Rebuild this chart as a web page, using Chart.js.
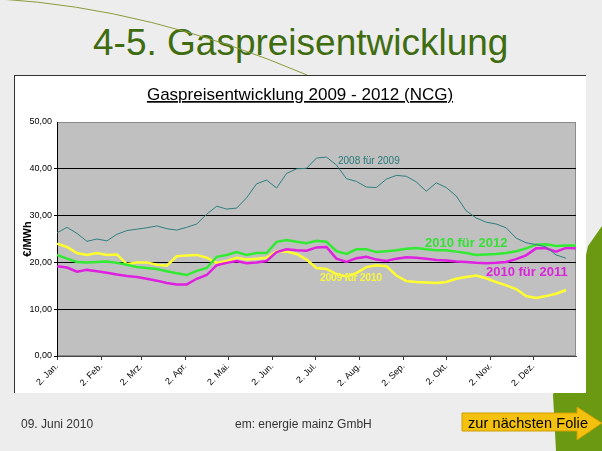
<!DOCTYPE html>
<html>
<head>
<meta charset="utf-8">
<script src="https://cdn.jsdelivr.net/npm/chart.js@4"></script>
<style>
  html, body { margin:0; padding:0; }
  body { width:602px; height:451px; background:#ededed; position:relative; overflow:hidden; font-family:"Liberation Sans", Arial, sans-serif; }
  #bg, #fg { position:absolute; left:0; top:0; }
  #fg { pointer-events:none; }
  #box { position:absolute; left:14px; top:75px; width:572px; height:318px; background:#fff; border-top:1px solid #333; border-left:1px solid #333; box-sizing:border-box; }
  #c { position:absolute; left:14px; top:75px; }
</style>
</head>
<body>
<svg id="bg" width="602" height="451">
  <polygon points="602,226 588,246 572,320 553,395 556,451 602,451" fill="#6b9a12"/>
  <text x="93" y="55" font-family="Liberation Sans, Arial" font-size="37" fill="#3f6c10">4-5. Gaspreisentwicklung</text>
  <path d="M0,-1 Q150,8 307,75" fill="none" stroke="#8c9c3a" stroke-width="1"/>
</svg>
<div id="box"></div>
<canvas id="c" width="572" height="318"></canvas>
<svg id="fg" width="602" height="451" font-family="Liberation Sans, Arial">
  <text x="300" y="100" text-anchor="middle" font-size="17" fill="#000" text-decoration="underline">Gaspreisentwicklung 2009 - 2012 (NCG)</text>
  <text x="338" y="164" font-size="10" fill="#2a7878">2008 für 2009</text>
  <text x="425" y="247" font-size="13" font-weight="bold" fill="#36e036">2010 für 2012</text>
  <text x="486" y="276" font-size="13" font-weight="bold" fill="#dd22dd">2010 für 2011</text>
  <text x="320" y="281" font-size="10.5" font-weight="bold" fill="#f6f640" textLength="62">2009 für 2010</text>
  <text x="21" y="428" font-size="12" fill="#333">09. Juni 2010</text>
  <text x="235" y="428" font-size="12" fill="#333">em: energie mainz GmbH</text>
  <polygon points="462,413 577,413 577,407 602,423 577,440 577,431 462,431" fill="#f4c10f" stroke="#cf9f00" stroke-width="1"/>
  <text x="468" y="428" font-size="14.5" fill="#000" textLength="120">zur nächsten Folie</text>
</svg>
<script>
// Days counted from 2 January
const days = [0,7,14,21,28,35,42,49,56,63,70,77,84,91,98,105,112,119,126,133,140,147,154,161,168,175,182,189,196,203,210,217,224,231,238,245,252,259,266,273,280,287,294,301,308,315,322,329,336,343,350,357,364];
const tickDays = [0,31,59,90,120,151,181,212,243,273,304,334];
const tickLabels = ["2. Jan.","2. Feb.","2. Mrz.","2. Apr.","2. Mai.","2. Jun.","2. Jul.","2. Aug.","2. Sep.","2. Okt.","2. Nov.","2. Dez."];
const yTicks = [0,10,20,30,40,50];

const s2008fuer2009 = [26.3,27.5,26.2,24.5,25.0,24.6,26.0,26.8,27.1,27.4,27.8,27.2,26.9,27.5,28.2,30.3,32.0,31.4,31.6,33.8,36.8,37.6,35.9,39.0,40.0,40.1,42.3,42.5,40.8,37.9,37.3,36.1,36.0,37.8,38.6,38.4,37.2,35.2,37.0,36.0,34.2,31.0,29.5,28.6,28.2,27.4,25.2,24.2,23.8,23.3,21.6,20.9,null];
const s2010fuer2012 = [21.6,20.8,20.1,20.0,20.1,20.2,19.9,19.5,19.0,18.8,18.6,18.1,17.7,17.3,18.2,18.8,21.2,21.6,22.2,21.6,22.0,22.0,24.4,24.8,24.4,24.1,24.6,24.4,22.4,21.8,22.8,22.8,22.2,22.4,22.6,22.9,23.1,22.8,22.6,22.6,22.3,22.0,21.6,21.7,21.8,22.0,22.4,23.0,23.8,23.9,23.5,23.6,23.6];
const s2010fuer2011 = [19.2,18.9,18.0,18.4,18.1,17.8,17.4,17.1,16.9,16.5,16.1,15.6,15.3,15.3,16.5,17.3,19.4,19.9,20.3,19.8,20.0,20.3,22.2,22.8,22.6,22.5,23.2,23.3,20.8,20.1,20.9,21.2,20.6,20.3,20.8,21.1,21.0,20.8,20.5,20.4,20.2,20.1,19.9,19.8,19.9,20.1,20.7,21.5,23.0,23.0,22.3,23.1,23.0];
const s2009fuer2010 = [24.0,23.3,22.0,21.6,22.0,21.6,21.7,19.6,20.0,20.0,19.5,19.3,21.3,21.5,21.6,21.0,19.9,20.3,21.0,20.6,20.8,21.0,22.4,22.3,21.8,20.6,18.8,18.6,17.5,17.0,17.7,19.0,19.4,19.2,17.2,16.0,15.8,15.7,15.6,15.8,16.5,16.9,17.2,16.6,15.8,15.1,14.3,12.8,12.4,12.8,13.3,14.1,null];

const pts = arr => days.map((d,i) => ({x:d, y:arr[i]}));

Chart.defaults.font.family = '"Liberation Sans", Arial, sans-serif';

const plotBg = {
  id:'plotBg',
  beforeDraw(chart){
    const {ctx, chartArea:{left,top,width,height}} = chart;
    ctx.save();
    ctx.fillStyle = '#c0c0c0';
    ctx.fillRect(left, top, width, height);
    ctx.strokeStyle = '#8a8a8a';
    ctx.lineWidth = 1;
    ctx.strokeRect(left+0.5, top+0.5, width-1, height-1);
    ctx.restore();
  }
};

new Chart(document.getElementById('c'), {
  type:'line',
  data:{
    datasets:[
      {label:'2008 für 2009', data:pts(s2008fuer2009), borderColor:'#2f7f80', borderWidth:1, pointRadius:0, order:1},
      {label:'2010 für 2012', data:pts(s2010fuer2012), borderColor:'#33ea33', borderWidth:2.5, pointRadius:0, order:2},
      {label:'2010 für 2011', data:pts(s2010fuer2011), borderColor:'#e020e0', borderWidth:2.5, pointRadius:0, order:3},
      {label:'2009 für 2010', data:pts(s2009fuer2010), borderColor:'#ffff30', borderWidth:2.5, pointRadius:0, order:4}
    ]
  },
  options:{
    responsive:false,
    animation:false,
    events:[],
    layout:{padding:{top:47, right:10, left:0, bottom:0}},
    plugins:{legend:{display:false}, title:{display:false}, tooltip:{enabled:false}},
    scales:{
      x:{
        type:'linear', min:0, max:364,
        afterBuildTicks: s => { s.ticks = tickDays.map(v => ({value:v})); },
        afterFit: s => { s.height = 37; },
        ticks:{autoSkip:false, minRotation:45, maxRotation:45, color:'#000', font:{size:9}, padding:1,
               callback:(v,i) => tickLabels[i]},
        grid:{drawOnChartArea:false, drawTicks:true, tickLength:4, color:'#333'},
        border:{display:true, color:'#444'}
      },
      y:{
        min:0, max:50,
        afterBuildTicks: s => { s.ticks = yTicks.map(v => ({value:v})); },
        afterFit: s => { s.width = 43; },
        ticks:{color:'#000', font:{size:9}, padding:2, callback:v => v.toFixed(2).replace('.', ',')},
        grid:{color: c => (c.tick && (c.tick.value === 50)) ? 'rgba(0,0,0,0)' : '#000', tickLength:3, lineWidth:1},
        border:{display:true, color:'#000'},
        title:{display:true, text:'€/MWh', color:'#000', font:{size:11, weight:'bold'}, padding:{top:7, bottom:0}}
      }
    }
  },
  plugins:[plotBg]
});
</script>
</body>
</html>
